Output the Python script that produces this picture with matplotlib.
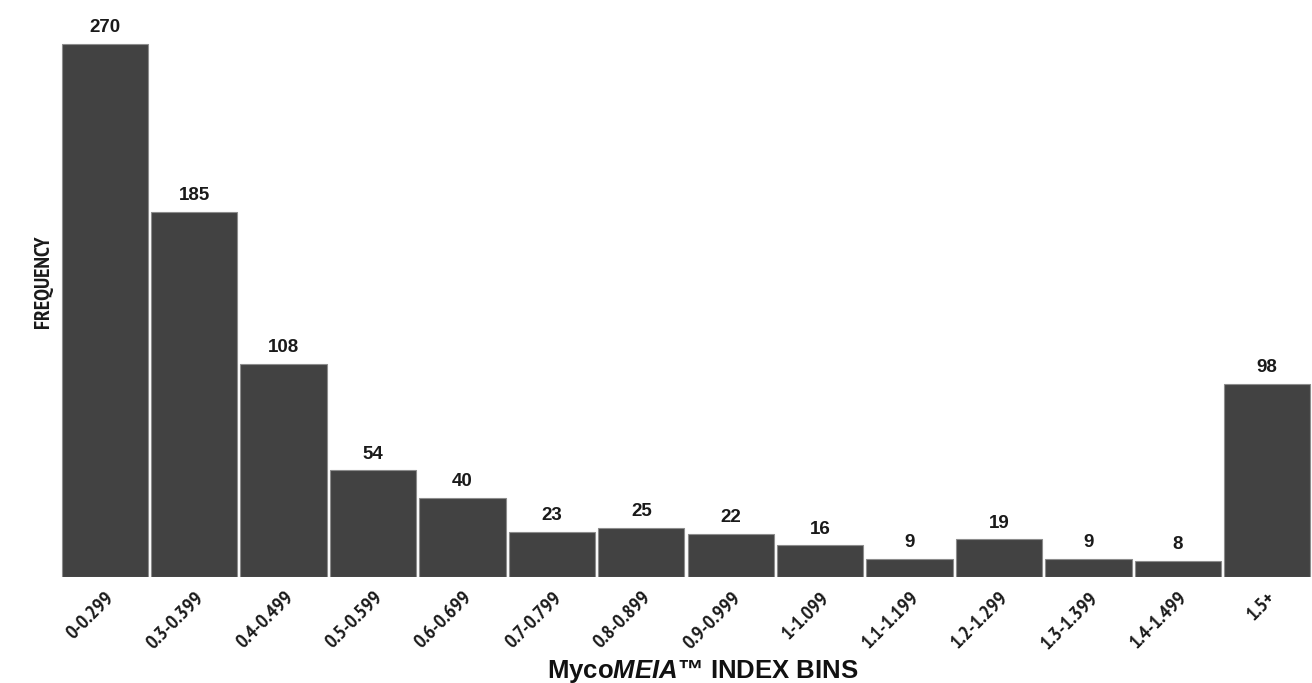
import numpy as np
import matplotlib.pyplot as plt

bins = ['0-0.299', '0.3-0.399', '0.4-0.499', '0.5-0.599', '0.6-0.699', '0.7-0.799',
        '0.8-0.899', '0.9-0.999', '1-1.099', '1.1-1.199', '1.2-1.299', '1.3-1.399',
        '1.4-1.499', '1.5+']
freq = [270, 185, 108, 54, 40, 23, 25, 22, 16, 9, 19, 9, 8, 98]

narrow = ['PT Sans Narrow', 'Liberation Sans', 'DejaVu Sans']

plt.rcParams['mathtext.fontset'] = 'custom'
plt.rcParams['mathtext.rm'] = 'Liberation Sans:bold'
plt.rcParams['mathtext.it'] = 'Liberation Sans:italic:bold'

fig = plt.figure(figsize=(13.12, 6.83), dpi=100)
ax = fig.add_axes([60 / 1312, 1 - 577 / 683, 1 - 60 / 1312, 577 / 683])

x = np.arange(len(bins))
ax.bar(x, freq, width=0.965, color='#424242', edgecolor='#8c8c8c', linewidth=0.8)

for xi, v in zip(x, freq):
    ax.text(xi, v + 4, str(v), ha='center', va='bottom', fontsize=13.5,
            fontweight='bold', family=['Liberation Sans', 'DejaVu Sans'], color='#1a1a1a')

ax.set_xlim(-0.5, len(bins) - 0.5)
ax.set_ylim(0, 270 * 577 / 533)
ax.set_xticks(x)
ax.set_xticklabels(bins, rotation=45, ha='right', rotation_mode='anchor',
                   fontsize=14.5, fontweight='bold', family=narrow, color='#1a1a1a')
ax.tick_params(axis='x', length=0, pad=8)
ax.set_yticks([])
for s in ax.spines.values():
    s.set_visible(False)

fig.text(43 / 1312, 1 - 282 / 683, 'FREQUENCY', rotation=90, ha='center', va='center',
         fontsize=15.5, fontweight='bold', family=narrow, color='#1a1a1a')
fig.text(703 / 1312, 1 - 678 / 683, 'Myco$\\mathit{MEIA}$\u2122 INDEX BINS',
         ha='center', va='baseline', fontsize=18.5, fontweight='bold',
         family=['Liberation Sans', 'DejaVu Sans'], color='#111111')

fig.savefig('out.png', dpi=100)
